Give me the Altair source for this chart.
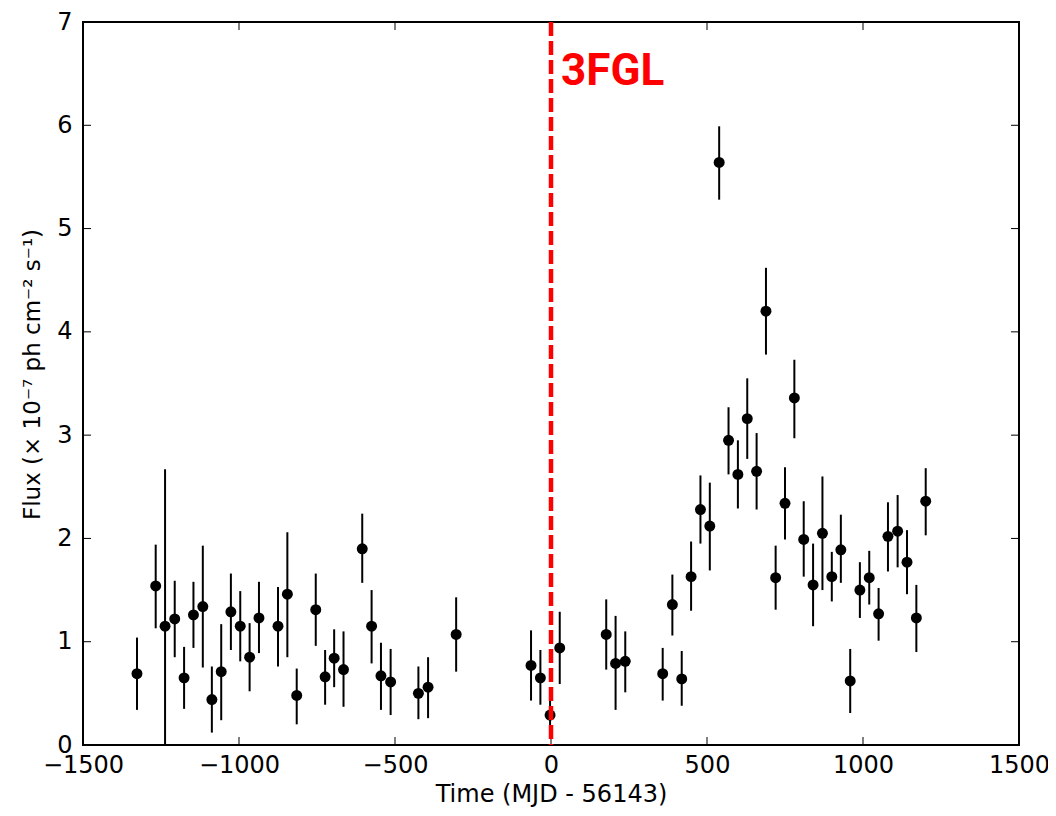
import altair as alt
import pandas as pd

# Time (MJD - 56143)
t = [-1327, -1267, -1237, -1206, -1176, -1146, -1116, -1087, -1057, -1026,
     -996, -966, -936, -875, -845, -815, -754, -724, -695, -665,
     -605, -575, -545, -514, -425, -394, -304, -64, -34, -3,
     28, 177, 207, 238, 358, 389, 419, 449, 479, 509,
     539, 569, 599, 629, 659, 689, 720, 750, 780, 810,
     840, 870, 900, 929, 959, 990, 1020, 1050, 1080, 1111,
     1141, 1171, 1201]
flux = [0.69, 1.54, 1.15, 1.22, 0.65, 1.26, 1.34, 0.44, 0.71, 1.29,
        1.15, 0.85, 1.23, 1.15, 1.46, 0.48, 1.31, 0.66, 0.84, 0.73,
        1.90, 1.15, 0.67, 0.61, 0.50, 0.56, 1.07, 0.77, 0.65, 0.29,
        0.94, 1.07, 0.79, 0.81, 0.69, 1.36, 0.64, 1.63, 2.28, 2.12,
        5.64, 2.95, 2.62, 3.16, 2.65, 4.20, 1.62, 2.34, 3.36, 1.99,
        1.55, 2.05, 1.63, 1.89, 0.62, 1.50, 1.62, 1.27, 2.02, 2.07,
        1.77, 1.23, 2.36]
flux_lo = [0.34, 1.13, -0.37, 0.85, 0.35, 0.94, 0.75, 0.12, 0.24, 0.92,
           0.81, 0.52, 0.89, 0.76, 0.85, 0.20, 0.96, 0.39, 0.56, 0.37,
           1.57, 0.79, 0.34, 0.29, 0.25, 0.26, 0.71, 0.43, 0.39, 0.12,
           0.59, 0.73, 0.34, 0.51, 0.43, 1.06, 0.38, 1.30, 1.95, 1.69,
           5.28, 2.62, 2.29, 2.77, 2.28, 3.78, 1.31, 1.99, 2.97, 1.63,
           1.15, 1.50, 1.39, 1.57, 0.31, 1.23, 1.36, 1.01, 1.68, 1.72,
           1.46, 0.90, 2.03]
flux_hi = [1.04, 1.94, 2.67, 1.59, 0.95, 1.58, 1.93, 0.76, 1.17, 1.66,
           1.49, 1.18, 1.58, 1.53, 2.06, 0.74, 1.66, 0.92, 1.12, 1.10,
           2.24, 1.50, 0.99, 0.93, 0.76, 0.85, 1.43, 1.11, 0.92, 0.46,
           1.29, 1.41, 1.25, 1.10, 0.94, 1.65, 0.91, 1.97, 2.61, 2.54,
           5.99, 3.27, 2.95, 3.55, 3.02, 4.62, 1.93, 2.69, 3.73, 2.36,
           1.95, 2.60, 1.87, 2.23, 0.93, 1.77, 1.88, 1.52, 2.35, 2.42,
           2.08, 1.55, 2.68]

x_ticks = [-1500, -1000, -500, 0, 500, 1000, 1500]
y_ticks = [0, 1, 2, 3, 4, 5, 6, 7]
event_x = [0]
event_label = ["3FGL"]
label_y = [6.39]

W, H = 936, 723
FONT = "DejaVu Sans"

df = pd.DataFrame({"t": t, "flux": flux, "lo": flux_lo, "hi": flux_hi})
xs = alt.Scale(domain=[-1500, 1500], nice=False, zero=False)
ys = alt.Scale(domain=[0, 7], nice=False, zero=False)

xax = alt.Axis(values=x_ticks, format="d", ticks=False, grid=False, domain=False,
               labelFont=FONT, labelFontSize=24, labelColor="black",
               labelPadding=8, labelFlush=False, labelOverlap=False,
               title="Time (MJD - 56143)", titleFont=FONT, titleFontSize=24,
               titleFontWeight="normal", titleColor="black",
               titleBaseline="middle", titleY=49)
yax = alt.Axis(values=y_ticks, format="d", ticks=False, grid=False, domain=False,
               labelFont=FONT, labelFontSize=24, labelColor="black",
               labelPadding=11, labelFlush=False, labelOverlap=False,
               title="Flux (× 10⁻⁷ ph cm⁻² s⁻¹)", titleFont=FONT,
               titleFontSize=23, titleFontWeight="normal", titleColor="black",
               titleBaseline="middle", titleX=-51, titleY=352, titleAngle=270)

base = alt.Chart(df)
bars = base.mark_rule(color="black", strokeWidth=2, clip=True).encode(
    x=alt.X("t:Q", scale=xs, axis=xax),
    y=alt.Y("lo:Q", scale=ys, axis=yax),
    y2="hi:Q",
)
pts = base.mark_circle(color="black", size=120, opacity=1).encode(
    x=alt.X("t:Q", scale=xs), y=alt.Y("flux:Q", scale=ys)
)

ev = pd.DataFrame({"x": event_x, "label": event_label, "ly": label_y})
vline = alt.Chart(ev).mark_rule(color="#ff0000", strokeWidth=4.5,
                                strokeDash=[14, 5]).encode(
    x=alt.X("x:Q", scale=xs), y=alt.value(0), y2=alt.value(H)
)
vtext = alt.Chart(ev).mark_text(color="#ff0000", font="Roboto",
                                fontWeight="bold", fontSize=44, align="left",
                                baseline="alphabetic", dx=10).encode(
    x=alt.X("x:Q", scale=xs), y=alt.Y("ly:Q", scale=ys), text="label:N"
)

xt = pd.DataFrame({"v": x_ticks})
yt = pd.DataFrame({"v": y_ticks})
TL = 8
tick_b = alt.Chart(xt).mark_rule(color="black", strokeWidth=1).encode(
    x=alt.X("v:Q", scale=xs), y=alt.value(H), y2=alt.value(H - TL))
tick_t = alt.Chart(xt).mark_rule(color="black", strokeWidth=1).encode(
    x=alt.X("v:Q", scale=xs), y=alt.value(0), y2=alt.value(TL))
tick_l = alt.Chart(yt).mark_rule(color="black", strokeWidth=1).encode(
    y=alt.Y("v:Q", scale=ys), x=alt.value(0), x2=alt.value(TL))
tick_r = alt.Chart(yt).mark_rule(color="black", strokeWidth=1).encode(
    y=alt.Y("v:Q", scale=ys), x=alt.value(W), x2=alt.value(W - TL))

chart = alt.layer(bars, pts, tick_b, tick_t, tick_l, tick_r, vline, vtext).properties(
    width=W, height=H,
    background="white",
    autosize=alt.AutoSizeParams(type="none"),
    padding={"left": 75, "top": 14, "right": 29, "bottom": 63},
).configure_view(stroke="black", strokeWidth=2)

chart.save("out.html", embed_options={"renderer": "svg", "actions": False})
